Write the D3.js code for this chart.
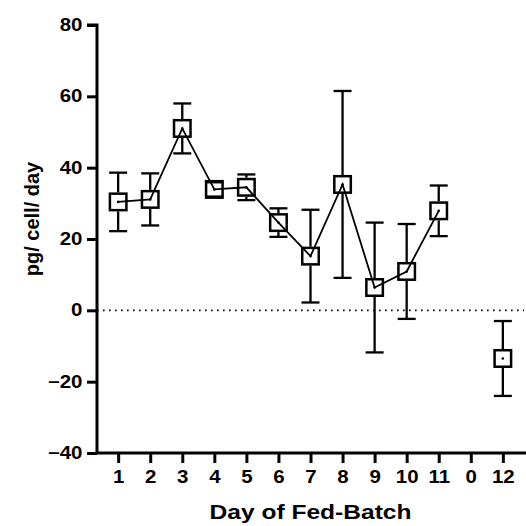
<!DOCTYPE html>
<html><head><meta charset="utf-8">
<script src="https://cdn.jsdelivr.net/npm/d3@7"></script>
<style>body{margin:0;background:#fff}text{font-family:"Liberation Sans",Arial,sans-serif;font-weight:bold;fill:#000}</style>
</head><body>
<svg id="c" width="526" height="526"></svg>
<script>
const categories = ["1","2","3","4","5","6","7","8","9","10","11","0","12"];
const connectedDays = ["1","2","3","4","5","6","7","8","9","10","11"];
const meanValues = [30.4, 31.1, 51.0, 33.9, 34.5, 24.6, 15.2, 35.3, 6.4, 10.9, 27.9, null, -13.5];
const errorValues = [8.2, 7.3, 7.0, 2.0, 3.6, 4.0, 13.0, 26.2, 18.2, 13.3, 7.1, null, 10.5];
const yTicks = [-40, -20, 0, 20, 40, 60, 80];
const xTitle = "Day of Fed-Batch";
const yTitle = "pg/ cell/ day";

(function () {
const svg = d3.select("#c");
const mL = 97, mR = 524, mT = 25, mB = 453;
const half = 9.5; // marker half-size (outer)
const sx = 1.17;  // horizontal stretch of horizontal text
const x = d3.scalePoint().domain(categories).range([mL, mR]).padding(0.66);
const y = d3.scaleLinear().domain([-40, 80]).range([mB, mT]);

const data = categories.map((c, i) => ({c, m: meanValues[i], e: errorValues[i]})).filter(d => d.m !== null);

// zero reference line
svg.append("line").attr("x1", mL).attr("x2", mR).attr("y1", y(0)).attr("y2", y(0))
  .attr("stroke", "#000").attr("stroke-width", 1.6).attr("stroke-dasharray", "1.6,4.4");

// y axis
const ya = svg.append("g").attr("transform", `translate(${mL},0)`)
  .call(d3.axisLeft(y).tickValues(yTicks).tickSize(10).tickPadding(4));
ya.select(".domain").attr("stroke-width", 3).attr("d", `M-10,${mT}H0V${mB}`);
ya.selectAll(".tick line").attr("stroke-width", 3);
ya.selectAll(".tick text").style("font-size", "17.5px").attr("font-family", null)
  .attr("x", -14.5 / sx).attr("transform", `scale(${sx},1)`);

// x axis
const xa = svg.append("g").attr("transform", `translate(0,${mB})`)
  .call(d3.axisBottom(x).tickSize(10).tickPadding(8));
xa.select(".domain").attr("stroke-width", 3).attr("d", `M${mL - 1.5},0H${mR + 2}`);
xa.selectAll(".tick line").attr("stroke-width", 3);
xa.selectAll(".tick text").style("font-size", "17.5px").attr("font-family", null)
  .attr("transform", `scale(${sx},1)`);

// connecting line
const lineData = data.filter(d => connectedDays.includes(d.c));
svg.append("path").datum(lineData)
  .attr("d", d3.line().x(d => x(d.c)).y(d => y(d.m)))
  .attr("fill", "none").attr("stroke", "#000").attr("stroke-width", 1.8);

// error bars (from marker edge outward)
const eb = svg.append("g").attr("stroke", "#000").attr("stroke-width", 2.3);
data.forEach(d => {
  const cx = x(d.c), cy = y(d.m);
  const yt = y(d.m + d.e), yb = y(d.m - d.e);
  if (cy - half > yt) eb.append("line").attr("x1", cx).attr("x2", cx).attr("y1", yt).attr("y2", cy - half);
  if (cy + half < yb) eb.append("line").attr("x1", cx).attr("x2", cx).attr("y1", cy + half).attr("y2", yb);
  [yt, yb].forEach(v => {
    eb.append("line").attr("x1", cx - 9).attr("x2", cx + 9).attr("y1", v).attr("y2", v);
  });
});

// markers
svg.append("g").selectAll("rect").data(data).join("rect")
  .attr("x", d => x(d.c) - half + 1.25).attr("y", d => y(d.m) - half + 1.25)
  .attr("width", 2 * half - 2.5).attr("height", 2 * half - 2.5)
  .attr("fill", "none").attr("stroke", "#000").attr("stroke-width", 2.5);
svg.append("g").selectAll("circle").data(data).join("circle")
  .attr("cx", d => x(d.c)).attr("cy", d => y(d.m)).attr("r", 1.3).attr("fill", "#000");

// titles
svg.append("text").attr("transform", `translate(310.5,519) scale(${sx},1)`).attr("text-anchor", "middle")
  .style("font-size", "21px").text(xTitle);
svg.append("text").attr("transform", "translate(39,219) rotate(-90)").attr("text-anchor", "middle")
  .style("font-size", "20px").text(yTitle);
})();
</script>
</body></html>
